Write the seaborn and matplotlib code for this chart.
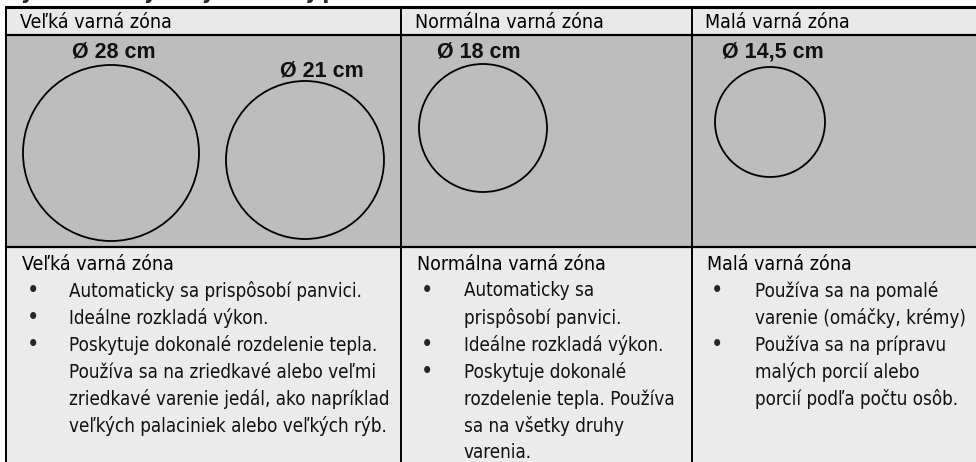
import matplotlib
matplotlib.use('Agg')
import matplotlib.pyplot as plt
from matplotlib.patches import Rectangle
import seaborn as sns
import pandas as pd

# --- content ---
title = 'Výber varnej zóny vhodnej pre nádobu'
zone_names = ['Veľká varná zóna', 'Normálna varná zóna', 'Malá varná zóna']
diameters = [28, 21, 18, 14.5]
diameter_labels = ['Ø 28 cm', 'Ø 21 cm', 'Ø 18 cm', 'Ø 14,5 cm']

bullets_large = [
    ['Automaticky sa prispôsobí panvici.'],
    ['Ideálne rozkladá výkon.'],
    ['Poskytuje dokonalé rozdelenie tepla.',
     'Používa sa na zriedkavé alebo veľmi',
     'zriedkavé varenie jedál, ako napríklad',
     'veľkých palaciniek alebo veľkých rýb.'],
]
bullets_normal = [
    ['Automaticky sa', 'prispôsobí panvici.'],
    ['Ideálne rozkladá výkon.'],
    ['Poskytuje dokonalé', 'rozdelenie tepla. Používa', 'sa na všetky druhy', 'varenia.'],
]
bullets_small = [
    ['Používa sa na pomalé', 'varenie (omáčky, krémy)'],
    ['Používa sa na prípravu', 'malých porcií alebo', 'porcií podľa počtu osôb.'],
]
descriptions = [bullets_large, bullets_normal, bullets_small]

# --- layout (pixel coordinates) ---
W, H = 976, 462
col_left = [6, 401, 692]
col_right = W + 10
header_top, header_bot, circ_bot = 7, 35, 247
circle_cx = [111, 305, 483, 770]
circle_cy = [153, 160, 128, 122]
circle_px = [176, 158, 128, 110]
label_xy = [(114, 52), (322, 71), (479, 52), (773, 52)]
line_h = 27

sns.set_theme(style='white')
plt.rcParams['font.family'] = ['DejaVu Sans']
plt.rcParams['font.stretch'] = 'condensed'

fig = plt.figure(figsize=(W / 100, H / 100), dpi=100)
ax = fig.add_axes([0, 0, 1, 1])

# row backgrounds
ax.add_patch(Rectangle((col_left[0], header_top), col_right, header_bot - header_top,
                       fc='#e9e9e9', ec='none', zorder=0))
ax.add_patch(Rectangle((col_left[0], header_bot), col_right, circ_bot - header_bot,
                       fc='#bdbdbd', ec='none', zorder=0))
ax.add_patch(Rectangle((col_left[0], circ_bot), col_right, H - circ_bot + 5,
                       fc='#ebebeb', ec='none', zorder=0))

# grid lines
for y, lw in [(header_top, 2.2), (header_bot, 1.6), (circ_bot, 1.6)]:
    ax.plot([col_left[0], col_right], [y, y], color='black', lw=lw, zorder=2)
for x in col_left:
    ax.plot([x, x], [header_top, H + 5], color='black', lw=1.4, zorder=2)

# circles drawn as scatter markers, size mapped from diameter
df = pd.DataFrame({'cx': circle_cx, 'cy': circle_cy, 'diameter': diameters})
size_map = {d: (px * 0.72) ** 2 for d, px in zip(diameters, circle_px)}
sns.scatterplot(data=df, x='cx', y='cy', size='diameter', sizes=size_map,
                marker='o', legend=False, ax=ax, zorder=3)
coll = ax.collections[-1]
coll.set_facecolor('none')
coll.set_edgecolor('black')
coll.set_linewidth(1.3)
ax.set_xlim(0, W)
ax.set_ylim(H, 0)
ax.axis('off')

for (lx, ly), lab in zip(label_xy, diameter_labels):
    ax.text(lx, ly, lab, ha='center', va='center', fontsize=15.5, fontweight='bold',
            family=['Liberation Sans', 'DejaVu Sans'], fontstretch='normal', color='#111111')

# title (partly off the top edge)
ax.text(5, 3, title, ha='left', va='bottom', fontsize=16.5, fontweight='bold')

text_x = [22, 417, 707]
bullet_x = [27, 421, 711]
body_x = [69, 464, 755]
fs = 13.5
for i, name in enumerate(zone_names):
    ax.text(text_x[i] - 2, (header_top + header_bot) / 2 + 1, name, ha='left', va='center',
            fontsize=fs + 0.5, color='black')
    y = 264
    ax.text(text_x[i], y, name, ha='left', va='center', fontsize=fs + 0.5, color='black')
    for item in descriptions[i]:
        y += line_h
        ax.text(bullet_x[i], y, '•', ha='left', va='center', fontsize=17)
        for k, line in enumerate(item):
            ax.text(body_x[i], y, line, ha='left', va='center', fontsize=fs, color='#111111')
            if k < len(item) - 1:
                y += line_h

fig.savefig('out.png', dpi=100)
